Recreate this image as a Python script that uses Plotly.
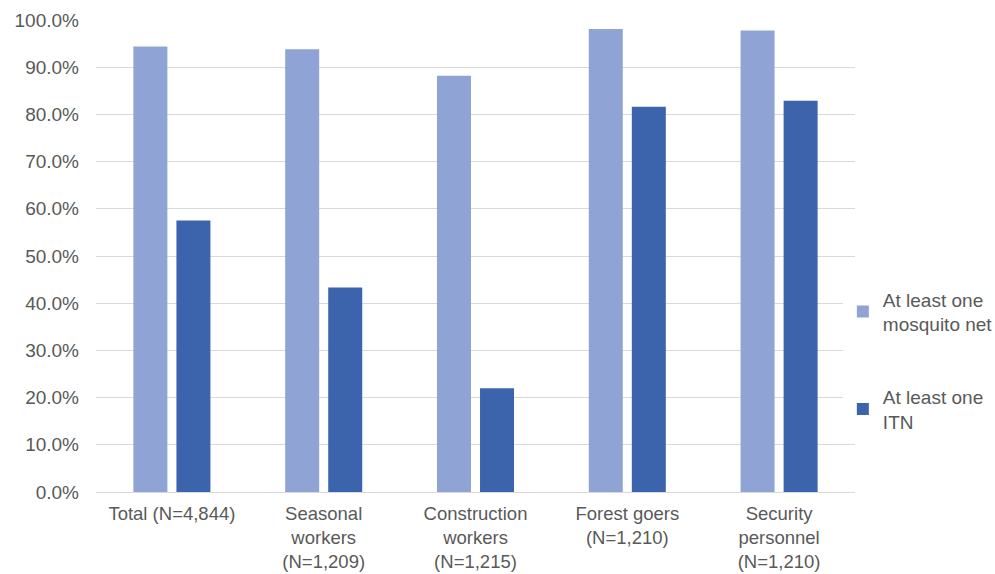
import plotly.graph_objects as go

categories = [
    "Total (N=4,844)",
    "Seasonal<br>workers<br>(N=1,209)",
    "Construction<br>workers<br>(N=1,215)",
    "Forest goers<br>(N=1,210)",
    "Security<br>personnel<br>(N=1,210)",
]
mosquito_net = [0.944, 0.938, 0.882, 0.981, 0.978]
itn = [0.575, 0.433, 0.220, 0.816, 0.829]
series_names = ["At least one<br>mosquito net", "At least one<br>ITN"]
colors = ["#8FA3D4", "#3C64AC"]

fig = go.Figure()
for i, (name, vals) in enumerate(zip(series_names, [mosquito_net, itn])):
    fig.add_trace(go.Bar(
        x=categories, y=vals, name=name,
        marker=dict(color=colors[i], line=dict(width=0)),
        legendgroup=f"g{i}",
    ))

fig.update_layout(
    width=995, height=574,
    margin=dict(l=96, r=140, t=20, b=82, autoexpand=False),
    paper_bgcolor="white", plot_bgcolor="white",
    barmode="group", bargap=0.433, bargroupgap=0.21,
    font=dict(family="Liberation Sans, Arial, sans-serif", size=18, color="#595959"),
    legend=dict(
        x=0.984, xanchor="left", y=0.279, yanchor="middle",
        font=dict(size=19, color="#595959"),
        tracegroupgap=45, itemwidth=30,
    ),
    showlegend=True,
)
fig.update_yaxes(
    range=[0, 1], dtick=0.1, tickformat=".1%",
    gridcolor="#D9D9D9", gridwidth=1, zeroline=False,
    showline=False, ticks="", ticklabelstandoff=16,
    tickfont=dict(size=19, color="#595959"),
)
fig.update_xaxes(
    showline=True, linecolor="#D9D9D9", linewidth=1,
    ticks="", ticklabelstandoff=5,
    tickfont=dict(size=18.5, color="#595959"),
)

fig.write_html("out.html")
